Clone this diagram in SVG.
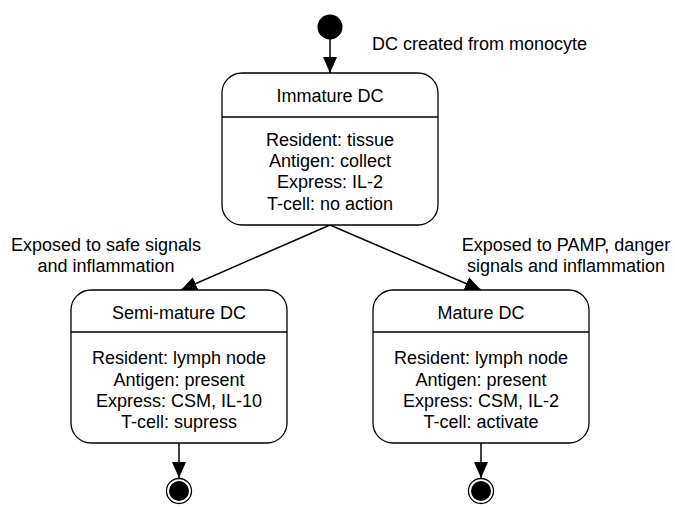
<svg xmlns="http://www.w3.org/2000/svg" width="675" height="507" viewBox="0 0 675 507">
  <style>
    text { font-family: "Liberation Sans", Arial, sans-serif; font-size: 18px; fill: #000; text-anchor: middle; }
    .label { text-anchor: start; }
    .state { fill: #fff; stroke: #000; stroke-width: 1.3; }
    .divider { stroke: #000; stroke-width: 1.3; }
    .edge { fill: none; stroke: #000; stroke-width: 1.5; marker-end: url(#arrow); }
  </style>
  <defs>
    <marker id="arrow" viewBox="0 0 16 14" refX="16" refY="7" markerWidth="16" markerHeight="14" markerUnits="userSpaceOnUse" orient="auto">
      <path d="M0,0 L16,7 L0,14 Z" fill="#000"/>
    </marker>
  </defs>
  <rect width="675" height="507" fill="#fff"/>

  <!-- transitions -->
  <g id="connectors">
    <line class="edge" x1="330" y1="39" x2="330" y2="73"/>
    <line class="edge" x1="330" y1="225" x2="181" y2="290"/>
    <line class="edge" x1="330" y1="225" x2="481" y2="290"/>
    <line class="edge" x1="179" y1="443" x2="179" y2="478"/>
    <line class="edge" x1="481" y1="443" x2="481" y2="478"/>
    <text class="label" x="372" y="50">DC created from monocyte</text>
    <text x="106" y="251">Exposed to safe signals</text>
    <text x="106" y="272">and inflammation</text>
    <text x="566" y="251">Exposed to PAMP, danger</text>
    <text x="566" y="272">signals and inflammation</text>
  </g>

  <!-- initial pseudo-state -->
  <g id="start">
    <circle cx="330" cy="27" r="12.5" fill="#000"/>
  </g>

  <g id="immature-dc">
    <rect class="state" x="222" y="73" width="216" height="152" rx="20" ry="20"/>
    <line class="divider" x1="222" y1="117" x2="438" y2="117"/>
    <text x="330" y="102">Immature DC</text>
    <text x="330" y="146">Resident: tissue</text>
    <text x="330" y="167">Antigen: collect</text>
    <text x="330" y="188">Express: IL-2</text>
    <text x="330" y="210">T-cell: no action</text>
  </g>

  <g id="semi-mature-dc">
    <rect class="state" x="71" y="290" width="216" height="153" rx="20" ry="20"/>
    <line class="divider" x1="71" y1="332" x2="287" y2="332"/>
    <text x="179" y="319">Semi-mature DC</text>
    <text x="179" y="364">Resident: lymph node</text>
    <text x="179" y="386">Antigen: present</text>
    <text x="179" y="407">Express: CSM, IL-10</text>
    <text x="179" y="428">T-cell: supress</text>
  </g>

  <g id="mature-dc">
    <rect class="state" x="373" y="290" width="216" height="153" rx="20" ry="20"/>
    <line class="divider" x1="373" y1="332" x2="589" y2="332"/>
    <text x="481" y="319">Mature DC</text>
    <text x="481" y="364">Resident: lymph node</text>
    <text x="481" y="386">Antigen: present</text>
    <text x="481" y="407">Express: CSM, IL-2</text>
    <text x="481" y="428">T-cell: activate</text>
  </g>

  <!-- final pseudo-states -->
  <g id="end-semi">
    <circle cx="179" cy="491" r="12.5" fill="#fff" stroke="#000" stroke-width="1.3"/>
    <circle cx="179" cy="491" r="10" fill="#000"/>
  </g>
  <g id="end-mature">
    <circle cx="481" cy="491" r="12.5" fill="#fff" stroke="#000" stroke-width="1.3"/>
    <circle cx="481" cy="491" r="10" fill="#000"/>
  </g>
</svg>
